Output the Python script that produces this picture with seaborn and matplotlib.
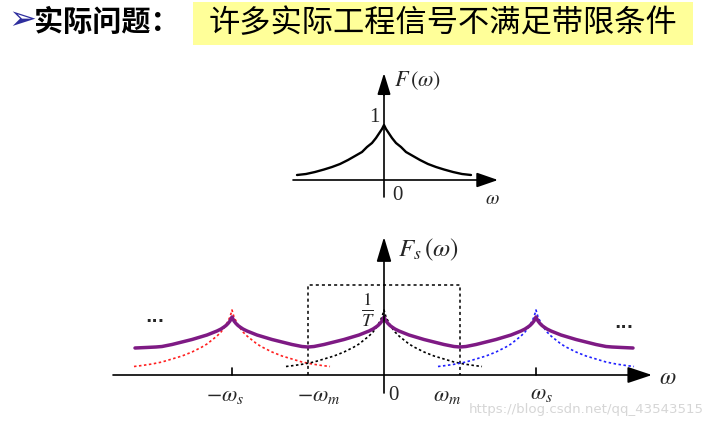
import numpy as np
import matplotlib
matplotlib.use("Agg")
import matplotlib.pyplot as plt
from matplotlib.patches import Rectangle
import seaborn as sns

sns.set_theme(style="white")
plt.rcParams['font.family'] = ['Noto Sans CJK SC', 'DejaVu Sans']
plt.rcParams['mathtext.fontset'] = 'stix'

# 上图 F(w)：离原点的距离 -> 高度
top_off = [0, 2, 4, 6, 8, 12, 17, 22, 29, 36, 44, 52, 60, 69, 78, 87]
top_h = [55, 51, 48, 45, 42, 37, 33, 28, 24, 20, 16, 13, 10.5, 8, 6, 5]

# 下图单个频谱（虚线）
single_off = [0, 2, 4, 6, 8, 11, 15, 20, 25, 30, 40, 50, 60, 70, 80, 90, 98]
single_h = [65, 58, 54, 50, 47, 43, 39, 35, 31, 28, 23, 19, 16, 13, 11, 9.5, 8.5]

# 叠加后的频谱（紫色实线），半个周期 + 两端
sum_off = [0, 2, 4, 6, 8, 11, 15, 20, 25, 30, 40, 50, 60, 70, 76, 86, 97]
sum_h = [58, 54, 51.5, 49.5, 48, 46, 44, 42, 40, 38.5, 35.5, 33, 30.5, 28.5, 28, 27.5, 27]

ws = 152      # 采样频率 (像素)
wm = 76       # 最高频率
box_h = 90    # 虚线框高度
centers = [-ws, 0, ws]
spec_colors = ['#ff2020', 'black', '#2020ff']

title_left = '实际问题：'
title_right = '许多实际工程信号不满足带限条件'
watermark = 'https://blog.csdn.net/qq_43543515'

X0, Y0, Y1 = 384, 375, 180

fig = plt.figure(figsize=(7.21, 4.23), dpi=100)
ax = fig.add_axes([0, 0, 1, 1])
ax.set_xlim(0, 721)
ax.set_ylim(423, 0)
ax.set_axis_off()


def sym(off, h):
    off = np.array(off, float)
    h = np.array(h, float)
    return np.concatenate([-off[::-1], off[1:]]), np.concatenate([h[::-1], h[1:]])


def arrow(x0, y0, x1, y1, hl, hw):
    ax.annotate('', xy=(x1, y1), xytext=(x0, y0),
                arrowprops=dict(arrowstyle='-|>,head_length=%s,head_width=%s' % (hl, hw),
                                color='black', lw=1.3, mutation_scale=10,
                                shrinkA=0, shrinkB=0))


# ---- 标题 ----
ax.text(22, 20, '➢', family='DejaVu Sans', color='#2e2e9e', fontsize=24, ha='center', va='center')
ax.text(34, 22, title_left, fontsize=21, fontweight='bold', ha='left', va='center', color='black')
ax.add_patch(Rectangle((193, 2), 500, 43, color='#ffff99', lw=0))
ax.text(443, 23, title_right, fontsize=22.5, ha='center', va='center', color='black')

# ---- 上图 ----
xx, hh = sym(top_off, top_h)
sns.lineplot(x=X0 + xx, y=Y1 - hh, ax=ax, color='black', lw=1.7, sort=False, estimator=None)
ax.plot([293, 485], [Y1, Y1], color='black', lw=1.2)
arrow(480, Y1, 498, Y1, 1.3, 0.45)
ax.plot([X0, X0], [197, 90], color='black', lw=1.2)
arrow(X0, 95, X0, 73, 1.3, 0.4)
ax.text(394, 80, r'$F\,(\omega)$', fontsize=16, ha='left', va='center')
ax.text(374, 118, '1', family='Liberation Serif', fontsize=15, ha='center', va='center')
ax.text(397, 196, '0', family='Liberation Serif', fontsize=15, ha='center', va='center')
ax.text(492, 198, r'$\omega$', fontsize=14, ha='center', va='center')

# ---- 下图 ----
# 虚线框
ax.plot([X0 - wm, X0 - wm, X0 + wm, X0 + wm], [Y0, Y0 - box_h, Y0 - box_h, Y0],
        color='black', lw=1.1, ls=(0, (2, 2)))

# 单个频谱
sx, sh = sym(single_off, single_h)
for c, col in zip(centers, spec_colors):
    sns.lineplot(x=X0 + c + sx, y=Y0 - sh, ax=ax, color=col, lw=1.2,
                 ls=(0, (1.5, 1.5)), sort=False, estimator=None)

# 叠加频谱
so = np.array(sum_off, float)
shh = np.array(sum_h, float)
inner = so <= wm
px, py = [], []
for i, c in enumerate(centers):
    lo = so if i == 0 else so[inner]
    hi = so if i == 2 else so[inner]
    lh = shh if i == 0 else shh[inner]
    rh = shh if i == 2 else shh[inner]
    px += list(X0 + c - lo[::-1]) + list(X0 + c + hi[1:])
    py += list(Y0 - lh[::-1]) + list(Y0 - rh[1:])
sns.lineplot(x=px, y=py, ax=ax, color='#7e1a84', lw=2.5, sort=False, estimator=None)

# 坐标轴
ax.plot([113, 640], [Y0, Y0], color='black', lw=1.2)
arrow(630, Y0, 652, Y0, 1.5, 0.5)
ax.plot([X0, X0], [393, 250], color='black', lw=1.2)
arrow(X0, 257, X0, 237, 1.5, 0.45)
for c in [-ws, ws]:
    ax.plot([X0 + c, X0 + c], [Y0, Y0 - 7], color='black', lw=1.2)

ax.text(398, 250, r'$F_s\,(\omega)$', fontsize=18, ha='left', va='center')
ax.text(368, 310, r'$\frac{1}{T}$', fontsize=19, ha='center', va='center')
ax.text(225, 395, r'$-\omega_s$', fontsize=16, ha='center', va='center')
ax.text(319, 395, r'$-\omega_m$', fontsize=16, ha='center', va='center')
ax.text(393, 396, '0', family='Liberation Serif', fontsize=15, ha='center', va='center')
ax.text(447, 395, r'$\omega_m$', fontsize=16, ha='center', va='center')
ax.text(541, 393, r'$\omega_s$', fontsize=16, ha='center', va='center')
ax.text(668, 377, r'$\omega$', fontsize=17, ha='center', va='center')
ax.text(155, 322, '···', family='DejaVu Sans', fontsize=12, fontweight='bold', ha='center', va='center')
ax.text(624, 328, '···', family='DejaVu Sans', fontsize=12, fontweight='bold', ha='center', va='center')

ax.text(469, 409, watermark, family='DejaVu Sans', fontsize=9.6, color='#d6d6d6',
        ha='left', va='center')

fig.savefig('out.png', dpi=100)
